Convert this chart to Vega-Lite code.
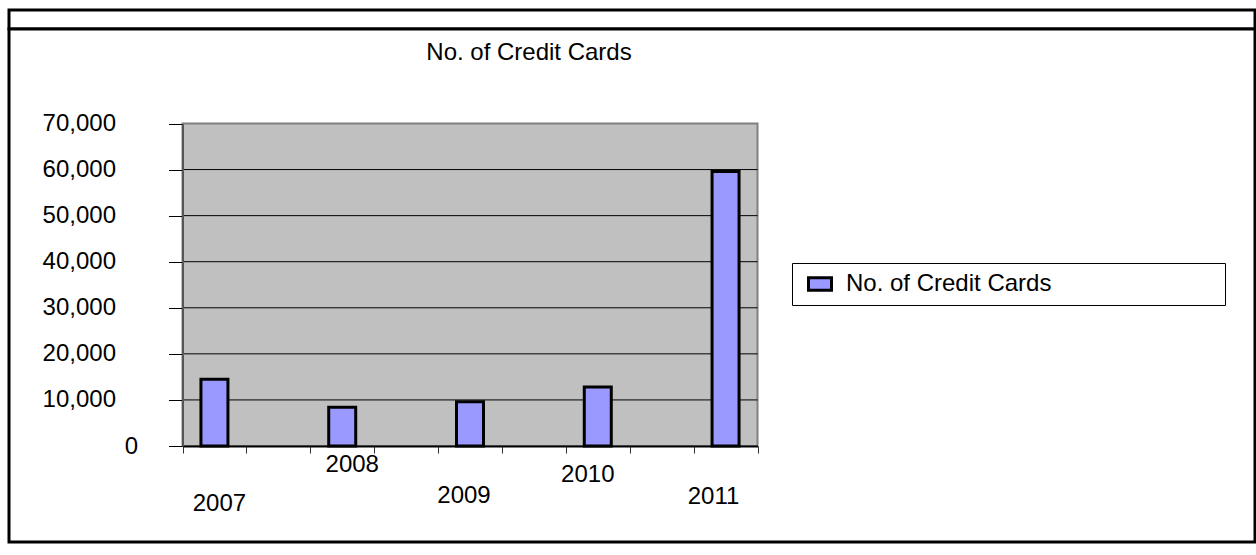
{
  "$schema": "https://vega.github.io/schema/vega-lite/v6.json",
  "padding": {"left": 7, "top": 8, "right": 0, "bottom": 12},
  "background": "white",
  "spacing": 0,
  "bounds": "flush",
  "config": {
    "view": {"stroke": "black", "strokeWidth": 3, "fill": "white"},
    "font": "Liberation Sans"
  },
  "datasets": {
    "cards": [
      {"year": 2007, "cards": 14500},
      {"year": 2008, "cards": 8400},
      {"year": 2009, "cards": 9600},
      {"year": 2010, "cards": 12800},
      {"year": 2011, "cards": 59600}
    ],
    "gridlines": [
      {"v": 10000}, {"v": 20000}, {"v": 30000}, {"v": 40000}, {"v": 50000}, {"v": 60000}
    ]
  },
  "vconcat": [
    {
      "width": 1246,
      "height": 19,
      "view": {"stroke": "black", "strokeWidth": 3, "fill": "white"},
      "data": {"values": [{}]},
      "mark": {"type": "point", "opacity": 0},
      "encoding": {}
    },
    {
      "width": 1246,
      "height": 513,
      "title": {
        "text": "No. of Credit Cards",
        "fontSize": 24,
        "fontWeight": "normal",
        "font": "Liberation Sans",
        "color": "black",
        "anchor": "middle",
        "frame": "group",
        "baseline": "alphabetic",
        "offset": -30,
        "dx": -103,
        "dy": 25
      },
      "layer": [
        {
          "data": {"values": [{}]},
          "mark": {"type": "rect", "fill": "#c0c0c0", "stroke": "#808080", "strokeWidth": 2},
          "encoding": {
            "x": {"datum": 2006.75, "type": "quantitative", "title": null,
                  "scale": {"domain": [2006.75, 2011.25], "range": [173.5, 748.5], "nice": false, "zero": false, "padding": 0}},
            "x2": {"datum": 2011.25},
            "y": {"datum": 0, "type": "quantitative", "title": null,
                  "scale": {"domain": [0, 70000], "range": [417, 94.5], "nice": false, "padding": 0}},
            "y2": {"datum": 70000}
          }
        },
        {
          "data": {"name": "gridlines"},
          "mark": {"type": "rule", "color": "black", "strokeWidth": 1},
          "encoding": {
            "x": {"datum": 2006.75, "type": "quantitative", "title": null,
                  "scale": {"domain": [2006.75, 2011.25], "range": [173.5, 748.5], "nice": false, "zero": false, "padding": 0}},
            "x2": {"datum": 2011.25},
            "y": {"field": "v", "type": "quantitative", "title": null,
                  "scale": {"domain": [0, 70000], "range": [417, 94.5], "nice": false, "padding": 0}}
          }
        },
        {
          "data": {"name": "cards"},
          "mark": {
            "type": "text",
            "align": "center",
            "baseline": "top",
            "fontSize": 24,
            "font": "Liberation Sans",
            "color": "black",
            "dx": {"expr": "datum.year == 2007 ? 5 : datum.year == 2008 ? 10 : datum.year == 2009 ? -6 : datum.year == 2010 ? -10 : -12"},
            "dy": {"expr": "datum.year == 2007 ? 46 : datum.year == 2008 ? 7 : datum.year == 2009 ? 38 : datum.year == 2010 ? 17 : 39"}
          },
          "encoding": {
            "x": {"field": "year", "type": "quantitative", "title": null,
                  "scale": {"domain": [2006.75, 2011.25], "range": [173.5, 748.5], "nice": false, "zero": false, "padding": 0}},
            "y": {"datum": 0, "type": "quantitative", "title": null,
                  "scale": {"domain": [0, 70000], "range": [417, 94.5], "nice": false, "padding": 0}},
            "text": {"field": "year", "type": "quantitative", "format": "d"}
          }
        },
        {
          "data": {"name": "cards"},
          "mark": {"type": "bar", "size": 27, "stroke": "black", "strokeWidth": 3},
          "encoding": {
            "x": {
              "field": "year", "type": "quantitative", "title": null,
              "scale": {"domain": [2006.75, 2011.25], "range": [173.5, 748.5], "nice": false, "zero": false, "padding": 0},
              "axis": {
                "offset": -96,
                "zindex": 1,
                "values": [2006.75, 2007.25, 2007.75, 2008.25, 2008.75, 2009.25, 2009.75, 2010.25, 2010.75, 2011.25],
                "labels": false,
                "tickSize": 7,
                "tickColor": "#333333",
                "tickWidth": 1,
                "domainColor": "black",
                "domainWidth": 2,
                "grid": false
              }
            },
            "y": {
              "field": "cards", "type": "quantitative", "title": null,
              "scale": {"domain": [0, 70000], "range": [417, 94.5], "nice": false, "padding": 0},
              "axis": {
                "offset": -173.5,
                "zindex": 1,
                "values": [0, 10000, 20000, 30000, 40000, 50000, 60000, 70000],
                "format": ",d",
                "labelFontSize": 24,
                "labelFont": "Liberation Sans",
                "labelColor": "black",
                "labelPadding": {"condition": {"test": "datum.value == 0", "value": 31}, "value": 53},
                "tickSize": 14,
                "tickColor": "black",
                "tickWidth": 1,
                "domainColor": "#555555",
                "domainWidth": 2,
                "grid": false
              }
            },
            "color": {
              "datum": "No. of Credit Cards",
              "scale": {"range": ["#9999ff"]},
              "legend": {
                "orient": "none",
                "legendX": 783,
                "legendY": 253,
                "title": null,
                "labelExpr": "datum.label + '\u00a0\u00a0\u00a0\u00a0\u00a0\u00a0\u00a0\u00a0\u00a0\u00a0\u00a0\u00a0\u00a0\u00a0\u00a0\u00a0\u00a0\u00a0\u00a0\u00a0\u00a0\u00a0\u2800'",
                "labelLimit": 0,
                "padding": 8,
                "strokeColor": "black",
                "fillColor": "white",
                "symbolType": "M-1,-0.55H1V0.55H-1Z",
                "symbolSize": 529,
                "symbolStrokeColor": "black",
                "symbolStrokeWidth": 3,
                "symbolFillColor": "#9999ff",
                "symbolOffset": 7,
                "labelFontSize": 24,
                "labelFont": "Liberation Sans",
                "labelColor": "black",
                "labelOffset": 13
              }
            }
          }
        }
      ]
    }
  ]
}
